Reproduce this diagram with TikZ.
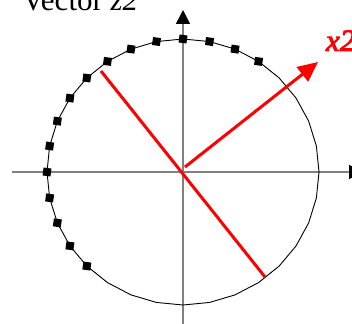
\documentclass[tikz,border=0pt]{standalone}
\usepackage{fontspec}
\setmainfont{Liberation Serif}
\newfontfamily\xboldfont{Liberation Serif}[UprightFont=* Italic,FakeBold=3]
\usetikzlibrary{arrows.meta}
\definecolor{axisgray}{RGB}{128,128,128}
\definecolor{vred}{RGB}{255,0,0}
\tikzset{
  axisline/.style={draw=axisgray,line width=1.5pt,-{Triangle[length=14pt,width=14pt,color=black]}},
  circline/.style={draw=black,line width=0.9pt},
  sqmark/.style={fill=black,draw=none,minimum size=8pt,inner sep=0pt,outer sep=0pt,rectangle},
  redline/.style={draw=vred,line width=3pt},
  redarrow/.style={draw=vred,line width=3pt,-{Triangle[length=20pt,width=18pt]}},
  lbl/.style={inner sep=0pt,outer sep=0pt,anchor=base west,font=\fontsize{31}{34}\selectfont}
}
\begin{document}
\begin{tikzpicture}[x=1pt,y=-1pt]
\clip (0,0) rectangle (352,323);
\fill[white] (0,0) rectangle (352,323);
% axes
\coordinate (hl) at (12,172);
\coordinate (hr) at (363,172);
\coordinate (vb) at (183,330);
\coordinate (vt) at (183,10);
\draw[axisline] (hl) -- (hr);
\draw[axisline] (vb) -- (vt);
% circle as 32-gon
\draw[circline] plot[samples=33,domain=0:360,variable=\a] ({183+136*cos(\a)},{172-133*sin(\a)}) -- cycle;
% squares
\foreach \i in {0,...,15}{
  \pgfmathsetmacro{\ang}{56.25+11.25*\i}
  \node[sqmark,rotate=-8] (s\i) at ({183+136*cos(\ang)},{172-133*sin(\ang)}) {};
}
% red line
\coordinate (ra) at (101,71);
\coordinate (rb) at (265,277);
\draw[redline] (ra) -- (rb);
% red arrow
\coordinate (xa) at (185,167);
\coordinate (xb) at (318,62);
\draw[redarrow] (xa) -- (xb);
% labels
\node[lbl] (title) at (22,11) {Vector \textit{z2}};
\node[lbl,text=vred] (x2) at (326,51) {\xboldfont x2};
\end{tikzpicture}
\end{document}
